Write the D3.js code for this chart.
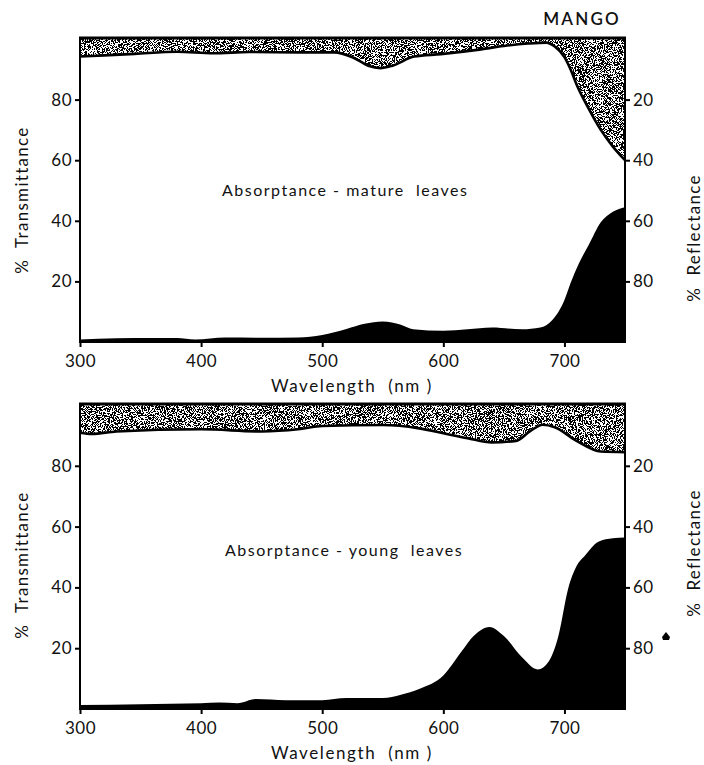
<!DOCTYPE html>
<head>
<meta charset="utf-8">
<style>
  body { margin: 0; background: #fff; }
  svg text { font-family: Lato, "DejaVu Sans", sans-serif; fill: #111; }
</style>
<script src="https://d3js.org/d3.v7.min.js"></script>
</head>
<body>
<script>
// wavelength axis
var xTicks = [300, 400, 500, 600, 700];
var yTicks = [20, 40, 60, 80];

// mature leaves: transmittance (black, from bottom)
var matureTWl = [300, 330, 360, 380, 395, 420, 450, 480, 500, 520, 535, 550, 565, 575, 600, 620, 640, 665, 680, 690, 700, 705, 712, 720, 730, 740, 750];
var matureT   = [0.8, 1.2, 1.3, 1.3, 0.8, 1.5, 1.4, 1.5, 2.3, 4.3, 6.0, 6.8, 5.7, 4.2, 3.7, 4.2, 4.8, 4.2, 4.8, 7.3, 13.9, 19.4, 26, 32, 39.5, 43, 44.5];
// mature leaves: reflectance (stippled, from top)
var matureRWl = [300, 320, 345, 380, 410, 440, 480, 510, 525, 538, 548, 558, 576, 598, 628, 650, 670, 685, 692, 700, 705, 710, 720, 730, 740, 750];
var matureR   = [5.8, 5.4, 4.9, 4.2, 4.7, 4.3, 4.4, 4.4, 6.0, 8.8, 9.6, 8.8, 5.8, 5.0, 3.6, 2.3, 1.5, 1.2, 2.5, 6, 10, 15, 23, 30, 35.5, 40];

// young leaves
var youngTWl = [300, 350, 400, 415, 430, 445, 470, 500, 520, 550, 565, 580, 600, 615, 625, 638, 650, 665, 678, 687, 695, 703, 710, 717, 728, 740, 750];
var youngT   = [1.3, 1.6, 1.9, 2.1, 1.9, 3.3, 2.9, 2.9, 3.6, 3.6, 4.7, 6.6, 11, 18.9, 24, 27, 24, 17, 13, 15.6, 24, 39.5, 47, 50.5, 55, 56.2, 56.4];
var youngRWl = [300, 310, 330, 400, 450, 480, 500, 550, 580, 600, 620, 640, 660, 672, 682, 692, 710, 730, 750];
var youngR   = [9.1, 9.5, 8.7, 8.0, 8.7, 8.0, 6.9, 6.6, 7.7, 9.3, 10.9, 12.3, 11.8, 8.5, 6.5, 7.3, 11.8, 15.3, 15.5];

var width = 704, height = 765;
var svg = d3.select("body").append("svg").attr("width", width).attr("height", height);

// speckled texture for the reflectance areas
var defs = svg.append("defs");
var f = defs.append("filter").attr("id", "stipple")
    .attr("filterUnits", "userSpaceOnUse")
    .attr("x", 0).attr("y", 0).attr("width", width).attr("height", height);
f.append("feTurbulence").attr("type", "fractalNoise").attr("baseFrequency", 1.1)
    .attr("numOctaves", 2).attr("seed", 5).attr("result", "noise");
f.append("feColorMatrix").attr("in", "noise").attr("type", "matrix")
    .attr("values", "0 0 0 0 0  0 0 0 0 0  0 0 0 0 0  -4 0 0 0 2.5").attr("result", "dots");
f.append("feComponentTransfer").attr("in", "dots").attr("result", "bw")
    .append("feFuncA").attr("type", "discrete").attr("tableValues", "0 1");
f.append("feComposite").attr("in", "bw").attr("in2", "SourceGraphic").attr("operator", "in");

var x = d3.scaleLinear().domain([300, 750]).range([80, 625]);

function panel(opt) {
  var yT = d3.scaleLinear().domain([0, 100]).range([opt.bottom, opt.top]);
  var yR = d3.scaleLinear().domain([0, 100]).range([opt.top, opt.bottom]);
  var g = svg.append("g");

  var tData = opt.tWl.map(function(w, i) { return [w, opt.t[i]]; });
  var rData = opt.rWl.map(function(w, i) { return [w, opt.r[i]]; });

  // stippled reflectance
  g.append("path")
    .datum(rData)
    .attr("fill", "#000")
    .attr("filter", "url(#stipple)")
    .attr("d", d3.area().curve(d3.curveMonotoneX)
        .x(function(d) { return x(d[0]); })
        .y0(yR(0) - 1)
        .y1(function(d) { return yR(d[1]); }));
  g.append("path")
    .datum(rData)
    .attr("fill", "none").attr("stroke", "#000").attr("stroke-width", 2.6)
    .attr("d", d3.line().curve(d3.curveMonotoneX)
        .x(function(d) { return x(d[0]); })
        .y(function(d) { return yR(d[1]); }));

  // black transmittance
  g.append("path")
    .datum(tData)
    .attr("fill", "#000")
    .attr("d", d3.area().curve(d3.curveMonotoneX)
        .x(function(d) { return x(d[0]); })
        .y0(yT(0) + 1)
        .y1(function(d) { return yT(d[1]); }));

  // frame
  g.append("line").attr("x1", x(300) - 1).attr("x2", x(750) + 1)
    .attr("y1", opt.top - 1).attr("y2", opt.top - 1)
    .attr("stroke", "#000").attr("stroke-width", 3);
  g.append("line").attr("x1", x(300)).attr("x2", x(750))
    .attr("y1", yT(0)).attr("y2", yT(0))
    .attr("stroke", "#000").attr("stroke-width", 2);

  var left = g.append("g").attr("transform", "translate(" + x(300) + ",0)")
    .call(d3.axisLeft(yT).tickValues(yTicks).tickSize(5).tickPadding(3));
  left.select(".domain").attr("d", "M0," + (opt.top - 2) + "V" + (yT(0) + 1));
  var right = g.append("g").attr("transform", "translate(" + x(750) + ",0)")
    .call(d3.axisRight(yR).tickValues(yTicks).tickSize(5).tickPadding(3));
  right.select(".domain").attr("d", "M0," + (opt.top - 2) + "V" + (yT(0) + 1));
  var bottom = g.append("g").attr("transform", "translate(0," + yT(0) + ")")
    .call(d3.axisBottom(x).tickValues(xTicks).tickSize(5).tickPadding(8));
  bottom.select(".domain").remove();

  g.selectAll(".domain, .tick line").attr("stroke", "#000").attr("stroke-width", 2);
  g.selectAll(".tick text").attr("font-size", 17).attr("font-family", "Lato, sans-serif")
    .attr("letter-spacing", 0.5).attr("fill", "#111");

  g.append("text").attr("x", 352).attr("y", yT(0) + 50)
    .attr("text-anchor", "middle").attr("font-size", 17).attr("letter-spacing", 1.6)
    .style("white-space", "pre").text("Wavelength  (nm )");

  g.append("text").attr("x", opt.labelX).attr("y", opt.labelY)
    .attr("font-size", 16).attr("letter-spacing", 1.5)
    .style("white-space", "pre").text(opt.label);

  g.append("text")
    .attr("transform", "translate(28," + opt.tMid + ") rotate(-90)")
    .attr("text-anchor", "middle").attr("font-size", 17).attr("letter-spacing", 1.3)
    .style("white-space", "pre").text("%  Transmittance");
  g.append("text")
    .attr("transform", "translate(700," + opt.rMid + ") rotate(-90)")
    .attr("text-anchor", "middle").attr("font-size", 17).attr("letter-spacing", 1.3)
    .style("white-space", "pre").text("%  Reflectance");
}

panel({ top: 39, bottom: 342, tWl: matureTWl, t: matureT, rWl: matureRWl, r: matureR,
        label: "Absorptance - mature  leaves", labelX: 222, labelY: 196, tMid: 200, rMid: 238 });
panel({ top: 405, bottom: 709, tWl: youngTWl, t: youngT, rWl: youngRWl, r: youngR,
        label: "Absorptance - young  leaves", labelX: 225, labelY: 556, tMid: 565, rMid: 553 });

svg.append("text").attr("x", 582).attr("y", 25).attr("text-anchor", "middle")
  .attr("font-size", 17).attr("font-weight", 600).attr("letter-spacing", 2.2).text("MANGO");

// small blot near the lower right axis
svg.append("path").attr("transform", "translate(666,637)")
  .attr("d", "M0,-5 L4,0 L3,3 L-3,3 L-4,0 Z").attr("fill", "#000");
</script>
</body>
</html>
